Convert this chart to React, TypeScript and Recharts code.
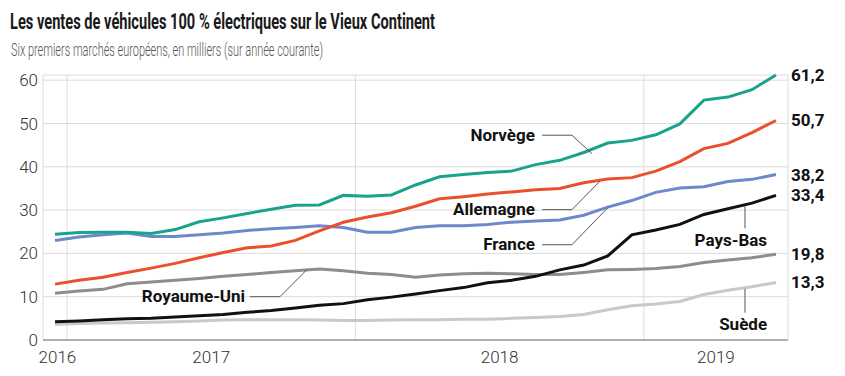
import React from "react";
import {
  LineChart,
  Line,
  XAxis,
  YAxis,
  CartesianGrid,
  ReferenceLine,
  ReferenceDot,
} from "recharts";

const months = [
  "2016-12",
  "2017-01", "2017-02", "2017-03", "2017-04", "2017-05", "2017-06",
  "2017-07", "2017-08", "2017-09", "2017-10", "2017-11", "2017-12",
  "2018-01", "2018-02", "2018-03", "2018-04", "2018-05", "2018-06",
  "2018-07", "2018-08", "2018-09", "2018-10", "2018-11", "2018-12",
  "2019-01", "2019-02", "2019-03", "2019-04", "2019-05", "2019-06",
];

const norvege = [24.4, 24.8, 24.9, 24.9, 24.6, 25.5, 27.3, 28.2, 29.2, 30.2, 31.1, 31.2, 33.4, 33.2, 33.5, 35.8, 37.7, 38.2, 38.7, 39.0, 40.5, 41.5, 43.3, 45.5, 46.1, 47.4, 49.9, 55.4, 56.1, 57.8, 61.2];
const allemagne = [12.9, 13.8, 14.5, 15.6, 16.6, 17.7, 19.0, 20.2, 21.3, 21.7, 23.0, 25.2, 27.2, 28.4, 29.4, 30.9, 32.6, 33.1, 33.7, 34.2, 34.7, 35.0, 36.3, 37.2, 37.5, 39.0, 41.2, 44.2, 45.4, 47.9, 50.7];
const france = [23.0, 23.8, 24.3, 24.7, 23.9, 23.9, 24.3, 24.7, 25.3, 25.7, 26.0, 26.4, 26.0, 24.9, 24.9, 26.0, 26.4, 26.4, 26.7, 27.2, 27.5, 27.7, 28.8, 30.7, 32.2, 34.1, 35.1, 35.4, 36.6, 37.1, 38.2];
const paysBas = [4.2, 4.4, 4.7, 4.9, 5.0, 5.3, 5.6, 5.9, 6.4, 6.8, 7.4, 8.0, 8.4, 9.3, 9.9, 10.6, 11.4, 12.1, 13.2, 13.8, 14.7, 16.2, 17.3, 19.4, 24.3, 25.4, 26.7, 29.0, 30.3, 31.6, 33.4];
const royaumeUni = [10.8, 11.3, 11.7, 13.0, 13.4, 13.8, 14.2, 14.7, 15.1, 15.6, 16.0, 16.4, 16.0, 15.4, 15.1, 14.5, 15.0, 15.3, 15.4, 15.3, 15.1, 15.1, 15.6, 16.2, 16.3, 16.5, 17.0, 17.9, 18.5, 19.0, 19.8];
const suede = [3.6, 3.8, 3.9, 4.0, 4.1, 4.2, 4.4, 4.6, 4.7, 4.7, 4.7, 4.6, 4.5, 4.5, 4.6, 4.7, 4.7, 4.8, 4.8, 5.0, 5.2, 5.4, 5.9, 7.0, 7.9, 8.3, 8.9, 10.5, 11.5, 12.3, 13.3];

const yTicks = [0, 10, 20, 30, 40, 50, 60];
const yearTicks = [-0.4, 6, 18, 27];
const yearLabels = ["2016", "2017", "2018", "2019"];
const yearStarts = [0, 12, 24];

// x = months since 1 Jan 2017, points sit mid-month
const data = months.map((m, i) => ({
  m: i - 0.5,
  norvege: norvege[i],
  allemagne: allemagne[i],
  france: france[i],
  paysBas: paysBas[i],
  royaumeUni: royaumeUni[i],
  suede: suede[i],
}));

const FONT = "Roboto, 'Noto Sans', sans-serif";
const last = months.length - 1;

const series = [
  { key: "suede", color: "#c9c9c9", end: "13,3" },
  { key: "royaumeUni", color: "#8d8d8d", end: "19,8" },
  { key: "paysBas", color: "#111111", end: "33,4" },
  { key: "france", color: "#6d89cc", end: "38,2" },
  { key: "allemagne", color: "#e9502b", end: "50,7" },
  { key: "norvege", color: "#1aa38c", end: "61,2" },
];

const notes = [
  { text: "Norvège", x: 19.47, y: 47.3, path: [[19.77, 47.3], [21.01, 47.3], [21.85, 43.0]] },
  { text: "Allemagne", x: 19.47, y: 30.3, path: [[19.77, 30.1], [21.01, 30.1], [22.18, 36.7]] },
  { text: "France", x: 19.47, y: 22.2, path: [[19.77, 22.0], [21.01, 22.0], [22.51, 30.6]] },
  { text: "Royaume-Uni", x: 7.41, y: 10.2, path: [[7.61, 10.0], [8.86, 10.0], [9.99, 16.3]] },
  { text: "Pays-Bas", x: 29.13, y: 23.1, path: [[28.21, 31.0], [28.21, 25.8]] },
  { text: "Suède", x: 29.13, y: 3.6, path: [[28.21, 11.8], [28.21, 6.3]] },
];

const endLabel = (text: string) => (props: any) => {
  if (props.index !== last) return null;
  return (
    <text
      x={props.x + 15}
      y={props.y}
      dominantBaseline="central"
      fontFamily={FONT}
      fontWeight={700}
      fontSize={17}
      fill="#111"
    >
      {text}
    </text>
  );
};

const noteShape = (text: string) => (props: any) => (
  <text
    x={props.cx}
    y={props.cy}
    textAnchor="end"
    dominantBaseline="central"
    fontFamily={FONT}
    fontWeight={700}
    fontSize={17}
    fill="#111"
  >
    {text}
  </text>
);

export default function App() {
  return (
    <div style={{ position: "absolute", left: 0, top: 0, width: 845, height: 376, background: "#fff" }}>
      <LineChart
        width={845}
        height={376}
        data={data}
        margin={{ top: 75, right: 57, left: 8, bottom: 6 }}
      >
        <CartesianGrid stroke="#dcdcdc" strokeWidth={1} />
        <XAxis
          dataKey="m"
          type="number"
          domain={[-1, 30]}
          ticks={yearStarts}
          interval={0}
          height={0}
          axisLine={false}
          tickLine={false}
          tick={() => <g />}
        />
        <XAxis
          xAxisId="years"
          dataKey="m"
          type="number"
          domain={[-1, 30]}
          ticks={yearTicks}
          interval={0}
          height={30}
          axisLine={{ stroke: "#9a9a9a", strokeWidth: 1.5 }}
          tickLine={false}
          tickSize={0}
          tickMargin={11}
          tickFormatter={(v: number) => yearLabels[yearTicks.indexOf(v)]}
          tick={{ fontFamily: FONT, fontSize: 17, fontWeight: 300, fill: "#333" }}
        />
        <YAxis
          type="number"
          domain={[0, 60]}
          ticks={yTicks}
          interval={0}
          width={35}
          axisLine={false}
          tickLine={false}
          tickSize={0}
          tickMargin={5}
          tick={{ fontFamily: FONT, fontSize: 17, fontWeight: 300, fill: "#333" }}
        />
        {series.map((s) => (
          <Line
            key={s.key}
            dataKey={s.key}
            type="linear"
            stroke={s.color}
            strokeWidth={3}
            dot={false}
            activeDot={false}
            isAnimationActive={false}
            label={endLabel(s.end)}
          />
        ))}
        {notes.map((n) =>
          n.path.slice(1).map((p, j) => (
            <ReferenceLine
              key={n.text + j}
              segment={[
                { x: n.path[j][0], y: n.path[j][1] },
                { x: p[0], y: p[1] },
              ]}
              stroke="#555"
              strokeWidth={1}
            />
          ))
        )}
        {notes.map((n) => (
          <ReferenceDot key={n.text} x={n.x} y={n.y} r={0} shape={noteShape(n.text)} />
        ))}
      </LineChart>
      <svg
        width={845}
        height={70}
        style={{ position: "absolute", left: 0, top: 0, pointerEvents: "none" }}
      >
        <text
          x={10}
          y={29}
          fontFamily={FONT}
          fontWeight={700}
          fontSize={22}
          fill="#1a1a1a"
          textLength={425}
          lengthAdjust="spacingAndGlyphs"
        >
          Les ventes de véhicules 100 % électriques sur le Vieux Continent
        </text>
        <text
          x={11}
          y={56}
          fontFamily={FONT}
          fontWeight={300}
          fontSize={18}
          fill="#555"
          textLength={312}
          lengthAdjust="spacingAndGlyphs"
        >
          Six premiers marchés européens, en milliers (sur année courante)
        </text>
      </svg>
    </div>
  );
}
